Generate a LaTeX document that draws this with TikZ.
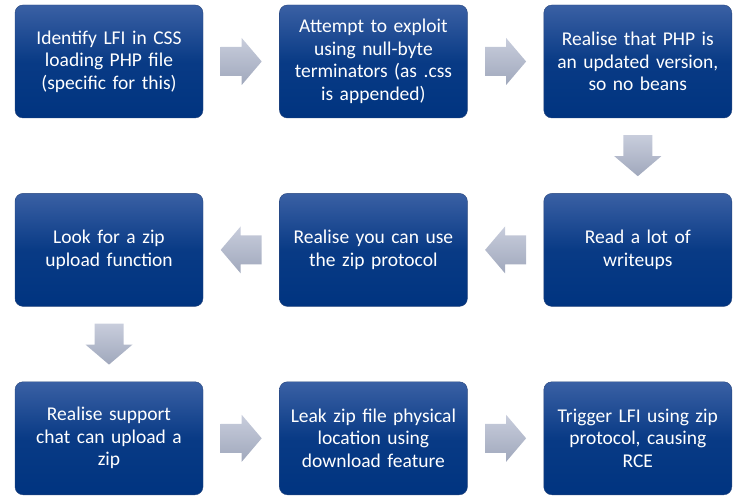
\documentclass[tikz,border=0pt]{standalone}
\usepackage{fontspec}
\setmainfont{Carlito}
\usetikzlibrary{positioning}
\usetikzlibrary{calc}

\definecolor{boxtop}{RGB}{58,96,164}
\definecolor{boxbot}{RGB}{0,52,128}
\definecolor{boxline}{RGB}{40,70,125}
\definecolor{arrtop}{RGB}{200,205,220}
\definecolor{arrbot}{RGB}{160,168,188}

\tikzset{
	stepbox/.style={rectangle, rounded corners=8pt, draw=boxline, thin,
		top color=boxtop, bottom color=boxbot, middle color=boxbot!85!boxtop,
		minimum width=188pt, minimum height=113pt, text width=180pt,
		align=center, inner sep=0pt, text=white,
		font=\fontsize{19.5}{22.5}\selectfont},
	flowarrow/.pic={
		\shade[top color=arrtop, bottom color=arrbot]
		(-20.5pt,-14.5pt) -- (0.5pt,-14.5pt) -- (0.5pt,-23.5pt) -- (20.5pt,0pt)
		-- (0.5pt,23.5pt) -- (0.5pt,14.5pt) -- (-20.5pt,14.5pt) -- cycle;
	}
}

\begin{document}
\begin{tikzpicture}[node distance=76pt and 75pt]
	\useasboundingbox (0,0) rectangle (749pt,498pt);
	
	% top row, left to right
	\node[stepbox] (lfi) at (109pt,436.5pt) {Identify LFI in CSS\\ loading PHP file\\ (specific for this)};
	\node[stepbox, right=76pt of lfi] (nullbyte) {Attempt to exploit\\ using null-byte\\ terminators (as .css\\ is appended)};
	\node[stepbox, right=76pt of nullbyte] (phpver) {Realise that PHP is\\ an updated version,\\ so no beans};
	
	% middle row, right to left
	\node[stepbox, below=75pt of phpver] (writeups) {Read a lot of\\ writeups};
	\node[stepbox, left=76pt of writeups] (zipproto) {Realise you can use\\ the zip protocol};
	\node[stepbox, left=76pt of zipproto] (upload) {Look for a zip\\ upload function};
	
	% bottom row, left to right
	\node[stepbox, below=75pt of upload] (chat) {Realise support\\ chat can upload a\\ zip};
	\node[stepbox, right=76pt of chat] (leak) {Leak zip file physical\\ location using\\ download feature};
	\node[stepbox, right=76pt of leak] (rce) {Trigger LFI using zip\\ protocol, causing\\ RCE};
	
	% block arrows between the steps
	\pic at ($(lfi.east)!0.5!(nullbyte.west)$) {flowarrow};
	\pic at ($(nullbyte.east)!0.5!(phpver.west)$) {flowarrow};
	\pic[rotate=-90] at ($(phpver.south)!0.5!(writeups.north)$) {flowarrow};
	\pic[rotate=180] at ($(writeups.west)!0.5!(zipproto.east)$) {flowarrow};
	\pic[rotate=180] at ($(zipproto.west)!0.5!(upload.east)$) {flowarrow};
	\pic[rotate=-90] at ($(upload.south)!0.5!(chat.north)$) {flowarrow};
	\pic at ($(chat.east)!0.5!(leak.west)$) {flowarrow};
	\pic at ($(leak.east)!0.5!(rce.west)$) {flowarrow};
\end{tikzpicture}
\end{document}
